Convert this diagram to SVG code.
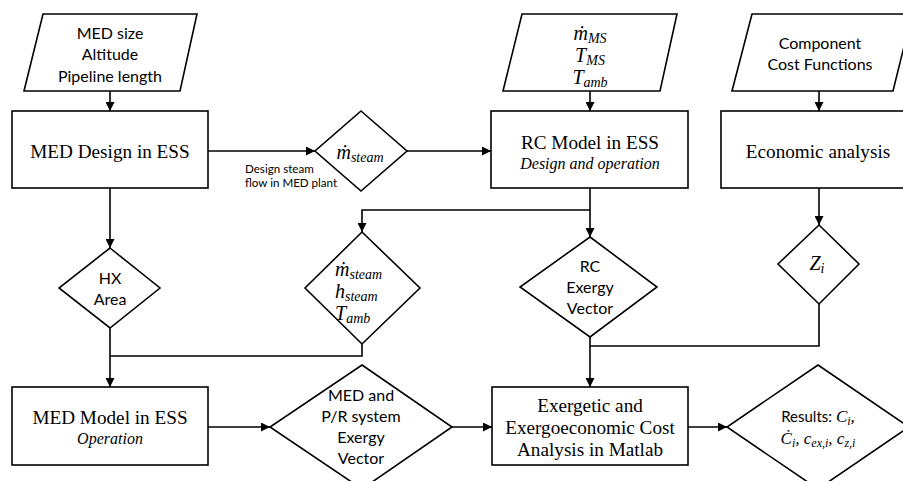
<svg xmlns="http://www.w3.org/2000/svg" width="903" height="481" viewBox="0 0 903 481">
<style>
.s{fill:#fff;stroke:#000;stroke-width:1.6}
.c{fill:none;stroke:#000;stroke-width:1.6}
.sans{font-family:Lato,"Liberation Sans",sans-serif;font-size:16px;fill:#000;text-anchor:middle}
.ser{font-family:"Liberation Serif",serif;font-size:19.2px;fill:#000;text-anchor:middle}
.it{font-style:italic}
.m{font-family:"Liberation Serif","DejaVu Serif",serif;font-style:italic;font-size:20px;fill:#000}
.sub{font-size:14px}
.small{font-family:Lato,"Liberation Sans",sans-serif;font-size:11.6px;fill:#000}
</style>
<defs>
<marker id="ah" viewBox="0 0 10 10" refX="10" refY="5" markerWidth="9" markerHeight="9" markerUnits="userSpaceOnUse" orient="auto">
<path d="M0,0 L10,5 L0,10 z" fill="#000"/>
</marker>
</defs>
<rect width="903" height="481" fill="#fff"/>
<g id="connectors">
<path class="c" d="M110,91 V111" marker-end="url(#ah)"/>
<path class="c" d="M208,151 H315" marker-end="url(#ah)"/>
<path class="c" d="M407,151 H491" marker-end="url(#ah)"/>
<path class="c" d="M590,91 V111" marker-end="url(#ah)"/>
<path class="c" d="M819,91 V111" marker-end="url(#ah)"/>
<path class="c" d="M110,188 V248" marker-end="url(#ah)"/>
<path class="c" d="M590,188 V237" marker-end="url(#ah)"/>
<path class="c" d="M590,210 H362 V232" marker-end="url(#ah)"/>
<path class="c" d="M819,188 V225" marker-end="url(#ah)"/>
<path class="c" d="M110,328 V387" marker-end="url(#ah)"/>
<path class="c" d="M362,344 V356 H110"/>
<path class="c" d="M590,337 V387" marker-end="url(#ah)"/>
<path class="c" d="M819,304 V346 H590"/>
<path class="c" d="M208,427 H270" marker-end="url(#ah)"/>
<path class="c" d="M452,427 H492" marker-end="url(#ah)"/>
<path class="c" d="M688,427 H727" marker-end="url(#ah)"/>
<text class="small" x="245" y="173">Design steam</text>
<text class="small" x="245" y="187">flow in MED plant</text>
</g>
<g id="in1">
<polygon class="s" points="43,14 197,14 180,91 24,91"/>
<text class="sans" x="110" y="39">MED size</text>
<text class="sans" x="110" y="60">Altitude</text>
<text class="sans" x="110" y="82">Pipeline length</text>
</g>
<g id="medDesign">
<rect class="s" x="12" y="111" width="196" height="77"/>
<text class="ser" x="110" y="158">MED Design in ESS</text>
</g>
<g id="msteam">
<polygon class="s" points="361,111 407,151 361,191 315,151"/>
<text class="m" x="360" y="159" text-anchor="middle">ṁ<tspan class="sub" dy="3">steam</tspan></text>
</g>
<g id="in2">
<polygon class="s" points="522,14 677,14 660,91 503,91"/>
<text class="m" x="590" y="40" text-anchor="middle">ṁ<tspan class="sub" dy="3">MS</tspan></text>
<text class="m" x="590" y="62" text-anchor="middle">T<tspan class="sub" dy="3">MS</tspan></text>
<text class="m" x="590" y="84" text-anchor="middle">T<tspan class="sub" dy="3">amb</tspan></text>
</g>
<g id="rcModel">
<rect class="s" x="491" y="111" width="197" height="77"/>
<text class="ser" x="590" y="149">RC Model in ESS</text>
<text class="ser it" x="590" y="169" style="font-size:16px">Design and operation</text>
</g>
<g id="in3">
<polygon class="s" points="752,14 912,14 893,91 732,91"/>
<text class="sans" x="820" y="49">Component</text>
<text class="sans" x="820" y="70">Cost Functions</text>
</g>
<g id="econ">
<rect class="s" x="721" y="111" width="190" height="77"/>
<text class="ser" x="818" y="158">Economic analysis</text>
</g>
<g id="hx">
<polygon class="s" points="110,248 160,288 110,328 59,288"/>
<text class="sans" x="110" y="284">HX</text>
<text class="sans" x="110" y="305">Area</text>
</g>
<g id="steamVec">
<polygon class="s" points="362,232 420,288 362,344 305,288"/>
<text class="m" x="335" y="276">ṁ<tspan class="sub" dy="3">steam</tspan></text>
<text class="m" x="335" y="298">h<tspan class="sub" dy="3">steam</tspan></text>
<text class="m" x="335" y="320">T<tspan class="sub" dy="3">amb</tspan></text>
</g>
<g id="rcVec">
<polygon class="s" points="590,237 657,287 590,337 520,287"/>
<text class="sans" x="590" y="272">RC</text>
<text class="sans" x="590" y="293">Exergy</text>
<text class="sans" x="590" y="314">Vector</text>
</g>
<g id="zi">
<polygon class="s" points="819,225 859,264 819,304 778,264"/>
<text class="m" x="817" y="270" text-anchor="middle">Z<tspan class="sub" dy="3">i</tspan></text>
</g>
<g id="medModel">
<rect class="s" x="12" y="387" width="196" height="78"/>
<text class="ser" x="110" y="424">MED Model in ESS</text>
<text class="ser it" x="110" y="444" style="font-size:16px">Operation</text>
</g>
<g id="medVec">
<polygon class="s" points="362,365 452,427 362,489 270,427"/>
<text class="sans" x="361" y="401">MED and</text>
<text class="sans" x="361" y="422">P/R system</text>
<text class="sans" x="361" y="443">Exergy</text>
<text class="sans" x="361" y="464">Vector</text>
</g>
<g id="exergetic">
<rect class="s" x="492" y="387" width="196" height="78"/>
<text class="ser" x="590" y="412">Exergetic and</text>
<text class="ser" x="590" y="434">Exergoeconomic Cost</text>
<text class="ser" x="590" y="456">Analysis in Matlab</text>
</g>
<g id="results">
<polygon class="s" points="818,365 909,427 818,489 727,427"/>
<text class="sans" x="818" y="422" style="font-size:15px">Results: <tspan class="m" style="font-size:17px">C<tspan style="font-size:12px" dy="3">i</tspan><tspan dy="-3">,</tspan></tspan></text>
<text class="m" x="818" y="444" text-anchor="middle" style="font-size:17px">Ċ<tspan style="font-size:12px" dy="3">i</tspan><tspan dy="-3">, c</tspan><tspan style="font-size:12px" dy="3">ex,i</tspan><tspan dy="-3">, c</tspan><tspan style="font-size:12px" dy="3">z,i</tspan></text>
</g>
</svg>
